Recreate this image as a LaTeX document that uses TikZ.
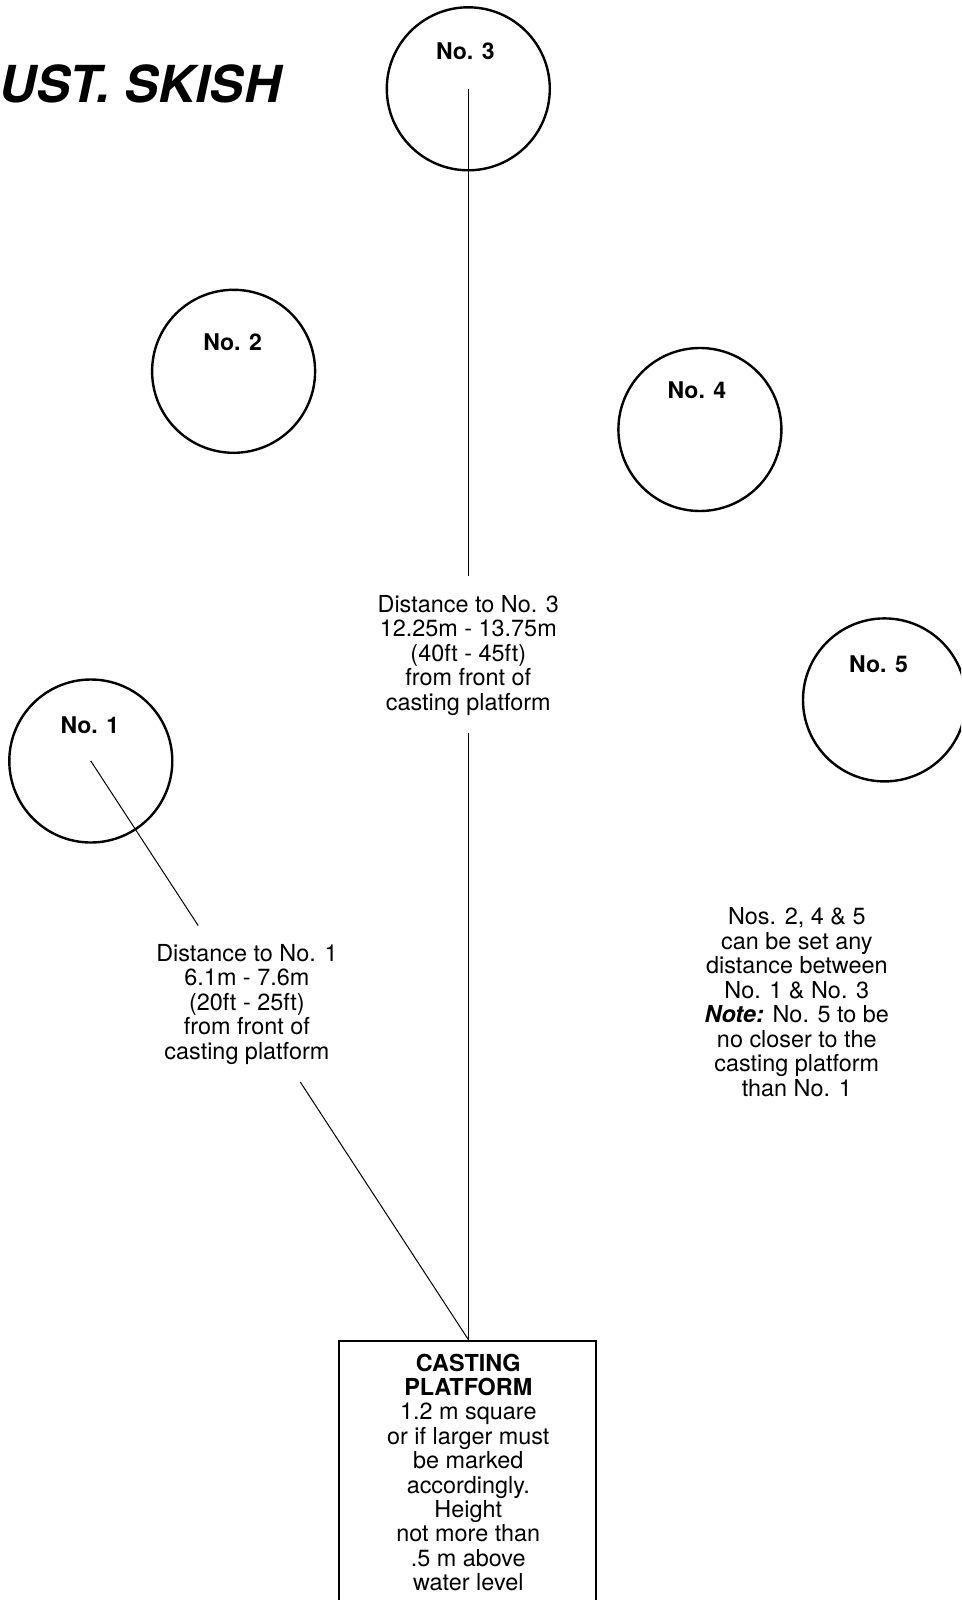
\documentclass[tikz,border=0pt]{standalone}
\usepackage{fontspec}
\setmainfont{TeX Gyre Heros}
\usetikzlibrary{calc}
\tikzset{
  target/.style={circle, draw, line width=2.4pt, minimum size=163pt, inner sep=0pt},
  lbl/.style={font=\bfseries\fontsize{23}{24.5}\selectfont, anchor=base, inner sep=0pt},
  txt/.style={align=center, font=\fontsize{23.4}{24.5}\selectfont, anchor=base, inner sep=0pt},
  thinline/.style={line width=1pt},
}
\begin{document}
\begin{tikzpicture}[x=1pt,y=-1pt]
\useasboundingbox (0,0) rectangle (961,1600);
\clip (0,0) rectangle (961,1600);

\node[font=\bfseries\itshape\fontsize{51}{60}\selectfont, anchor=base west, inner sep=0pt] (title) at (-1,103) {UST. SKISH};

\node[target] (c3) at (468.3,88.8) {};
\node[target] (c2) at (233.6,371.3) {};
\node[target] (c4) at (699.9,429.5) {};
\node[target] (c5) at (884.5,699.9) {};
\node[target] (c1) at (90.8,761) {};

\node[lbl] (l3) at ($(c3.center)+(-3,-29.6)$) {No. 3};
\node[lbl] (l2) at ($(c2.center)+(-1,-20.4)$) {No. 2};
\node[lbl] (l4) at ($(c4.center)+(-3,-30.6)$) {No. 4};
\node[lbl] (l5) at ($(c5.center)+(-6,-27.5)$) {No. 5};
\node[lbl] (l1) at ($(c1.center)+(-1,-27.5)$) {No. 1};

\node[draw, line width=2.4pt, minimum width=257pt, minimum height=320pt, anchor=north, inner sep=0pt] (plat) at (467.3,1339.5) {};
\coordinate (pt) at (468.3,1339.5);

% base anchor = baseline of the last line
\node[txt] (d3) at (468.3,710) {Distance to No. 3\\12.25m - 13.75m\\(40ft - 45ft)\\from front of\\casting platform};
\node[txt] (d1) at (246.9,1059) {Distance to No. 1\\6.1m - 7.6m\\(20ft - 25ft)\\from front of\\casting platform};
\node[txt] (note) at (796.8,1096) {Nos. 2, 4 \& 5\\can be set any\\distance between\\No. 1 \& No. 3\\\textbf{\itshape Note:} No. 5 to be\\no closer to the\\casting platform\\than No. 1};
\node[txt, font=\fontsize{23.4}{24.4}\selectfont] (ptxt) at (468.3,1590.6) {\textbf{CASTING}\\\textbf{PLATFORM}\\1.2 m square\\or if larger must\\be marked\\accordingly.\\Height\\not more than\\.5 m above\\water level};

\coordinate (a3) at (468.3,576.4);
\coordinate (b3) at (468.3,732.5);
\draw[thinline] (c3.center) -- (a3);
\draw[thinline] (b3) -- (pt);

\coordinate (a1) at ($(c1.center)!0.2845!(pt)$);
\coordinate (b1) at ($(c1.center)!0.5548!(pt)$);
\draw[thinline] (c1.center) -- (a1);
\draw[thinline] (b1) -- (pt);
\end{tikzpicture}
\end{document}
